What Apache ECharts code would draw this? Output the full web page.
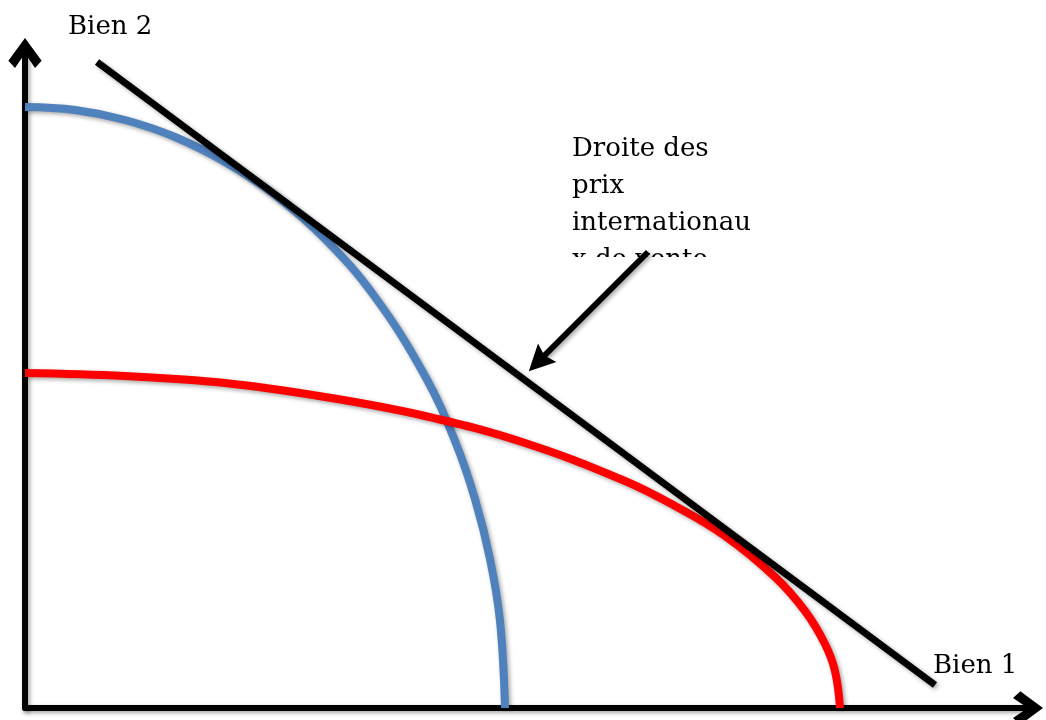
<!DOCTYPE html>
<html>
<head>
<meta charset="utf-8">
<script src="https://cdn.jsdelivr.net/npm/echarts@6/dist/echarts.min.js"></script>
<style>html,body{margin:0;padding:0;background:#fff}#c{width:1046px;height:720px}</style>
</head>
<body>
<div id="c"></div>
<script>
const blueX = [0, 50, 100, 150, 200, 250, 300, 350, 400, 430, 450, 465, 475, 480];
const blueY = [601, 598, 588, 571, 546, 513, 469, 411, 332, 267, 209, 149, 87, 0];
const redX = [0, 100, 200, 300, 400, 500, 600, 650, 700, 750, 780, 800, 810, 815];
const redY = [335, 332, 325, 311, 292, 265, 227, 202, 172, 131, 97, 64, 37, 0];
const priceLineX = [72, 910];
const priceLineY = [646, 23];
const pointerFrom = [623, 456];
const pointerTo = [513, 346];
const xLabel = 'Bien 1';
const yLabel = 'Bien 2';
const noteLines = ['Droite des', 'prix', 'internationau', 'x de vente'];

const zip = (xs, ys) => xs.map((x, i) => [x, ys[i]]);
const chevron = 'path://M50,0 L100,68 L80,90 L50,46 L20,90 L0,68 Z';
const arrowHead = 'path://M50,0 L100,100 L50,85 L0,100 Z';
const shadow = { shadowBlur: 4, shadowColor: 'rgba(0,0,0,0.35)', shadowOffsetX: 2, shadowOffsetY: 2 };
const font = '26px "DejaVu Serif"';

const chart = echarts.init(document.getElementById('c'), null, { renderer: 'canvas' });
chart.setOption({
  animation: false,
  backgroundColor: '#ffffff',
  grid: { left: 25, right: 18, top: 53, bottom: 12 },
  xAxis: {
    type: 'value', min: 0, max: 1003,
    axisLine: { onZero: false, symbol: ['none', chevron], symbolSize: [34, 30],
      lineStyle: Object.assign({ color: '#000', width: 6 }, shadow) },
    axisTick: { show: false }, axisLabel: { show: false }, splitLine: { show: false }
  },
  yAxis: {
    type: 'value', min: 0, max: 655,
    axisLine: { show: true, onZero: false, symbol: ['none', chevron], symbolSize: [34, 30],
      lineStyle: Object.assign({ color: '#000', width: 6 }, shadow) },
    axisTick: { show: false }, axisLabel: { show: false }, splitLine: { show: false }
  },
  graphic: [
    { type: 'text', x: 68, y: 9, z: 1, style: { text: yLabel, font: font, fill: '#000', lineHeight: 37 } },
    { type: 'text', x: 933, y: 648, z: 1, style: { text: xLabel, font: font, fill: '#000', lineHeight: 37 } },
    { type: 'text', x: 572, y: 131, z: 1, style: { text: noteLines.join('\n'), font: font, fill: '#000', lineHeight: 37 } },
    { type: 'rect', z: 2, shape: { x: 560, y: 257, width: 220, height: 30 }, style: { fill: '#fff' } }
  ],
  series: [
    { type: 'line', z: 10, data: zip(blueX, blueY), smooth: 0.4, showSymbol: false, symbol: 'none',
      lineStyle: Object.assign({ color: '#4F81BD', width: 8, cap: 'butt' }, shadow) },
    { type: 'line', z: 10, data: zip(redX, redY), smooth: 0.4, showSymbol: false, symbol: 'none',
      lineStyle: Object.assign({ color: '#FF0000', width: 8, cap: 'butt' }, shadow) },
    { type: 'line', z: 11, data: zip(priceLineX, priceLineY), showSymbol: false, symbol: 'none',
      lineStyle: Object.assign({ color: '#000', width: 7 }, shadow) },
    { type: 'lines', z: 11, coordinateSystem: 'cartesian2d', polyline: false,
      symbol: ['none', arrowHead], symbolSize: 26,
      lineStyle: Object.assign({ color: '#000', width: 6, opacity: 1 }, shadow),
      data: [{ coords: [pointerFrom, pointerTo] }] }
  ]
});
</script>
</body>
</html>
